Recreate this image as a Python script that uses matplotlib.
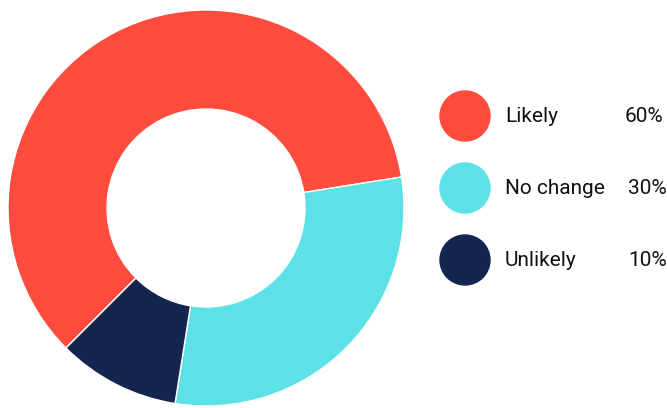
import matplotlib
matplotlib.use("Agg")
import matplotlib.pyplot as plt
from matplotlib.patches import Circle

categories = ["Likely", "No change", "Unlikely"]
values = [60, 30, 10]
colors = ["#FF4C3E", "#5CE1E6", "#14254F"]

plt.rcParams['font.family'] = ['Roboto', 'DejaVu Sans']

W, H = 667, 408
fig = plt.figure(figsize=(W / 100, H / 100), dpi=100)

# Donut
cx, cy, r = 206, 208, 198
ax = fig.add_axes([(cx - r) / W, (H - cy - r) / H, 2 * r / W, 2 * r / H])
ax.pie(values, colors=colors, startangle=225, counterclock=False, radius=1,
       wedgeprops=dict(width=0.5, edgecolor="white", linewidth=1))
ax.set_xlim(-1, 1)
ax.set_ylim(-1, 1)
ax.set_aspect("equal")
ax.axis("off")

# Legend in pixel coordinates
lax = fig.add_axes([0, 0, 1, 1])
lax.set_xlim(0, W)
lax.set_ylim(H, 0)
lax.axis("off")
ys = [116, 188, 260]
pct_x = [625, 628, 628]
for cat, val, col, y, px in zip(categories, values, colors, ys, pct_x):
    lax.add_patch(Circle((465, y), 25, color=col))
    lax.text(505, y, cat, fontsize=15, va="center", ha="left", color="#111111")
    lax.text(px, y, f"{val}%", fontsize=15, va="center", ha="left", color="#111111")

fig.savefig("out.png", dpi=100)
